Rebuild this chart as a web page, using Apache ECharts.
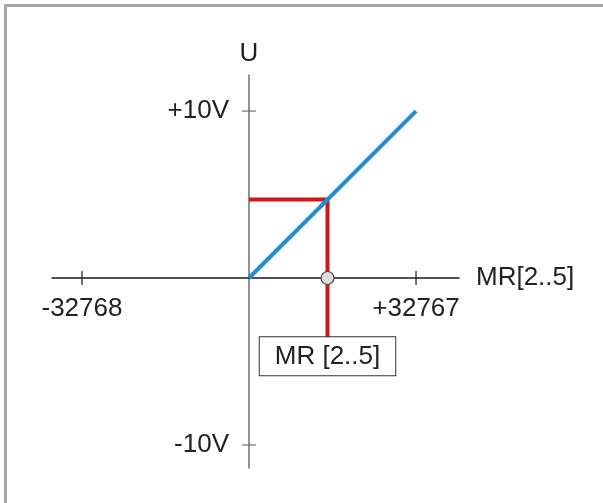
<!DOCTYPE html>
<html>
<head>
<meta charset="utf-8">
<script src="https://cdn.jsdelivr.net/npm/echarts@6/dist/echarts.min.js"></script>
<style>
	html, body { margin: 0; padding: 0; background: #fff; }
	#chart { position: absolute; left: 0; top: 0; width: 603px; height: 503px; }
	#frame {
		position: absolute; left: 4px; top: 4px; width: 640px; height: 540px;
		border-left: 3px solid #a6a6a6; border-top: 3px solid #a6a6a6;
		pointer-events: none;
	}
</style>
</head>
<body>
<div id="chart"></div>
<div id="frame"></div>
<script>
// 轴范围
const X_MIN = -38650
const X_MAX = 41200
const Y_MIN = -11.38
const Y_MAX = 12.16

// 刻度
const xTickValues = [-32768, 32767]
const xTickLabels = ['-32768', '+32767']
const yTickValues = [-10, 10]
const yTickLabels = ['-10V', '+10V']

// 特性曲线 (MR -> U)
const blueLine = [[0, 0], [32767, 10]]
// 工作点投影
const redLine = [[0, 4.7], [15400, 4.7], [15400, -3.55]]
const workPoint = [[15400, 0]]
const boxPoint = [[15400, -3.55]]
const boxText = 'MR [2..5]'

const FONT = '"Liberation Sans", Arial, sans-serif'
const TEXT_COLOR = '#222'
const X_AXIS_COLOR = '#1a1a1a'
const Y_AXIS_COLOR = '#6e6e6e'

const textStyle = { color: TEXT_COLOR, fontSize: 26, fontFamily: FONT }

const chart = echarts.init(document.getElementById('chart'))

const option = {
	animation: false,
	grid: { left: 52, right: 144, top: 75, bottom: 35, containLabel: false, outerBoundsMode: 'none' },
	xAxis: {
		type: 'value',
		min: X_MIN,
		max: X_MAX,
		name: 'MR[2..5]',
		nameLocation: 'end',
		nameGap: 17,
		nameTextStyle: textStyle,
		axisLine: { onZero: true, lineStyle: { color: X_AXIS_COLOR, width: 1.5 } },
		axisTick: { show: false },
		splitLine: { show: false },
		axisLabel: { show: false },
	},
	yAxis: {
		type: 'value',
		min: Y_MIN,
		max: Y_MAX,
		name: 'U',
		nameLocation: 'end',
		nameGap: 8,
		nameTextStyle: textStyle,
		axisLine: { onZero: true, lineStyle: { color: Y_AXIS_COLOR, width: 1.5 } },
		axisTick: { show: false },
		splitLine: { show: false },
		axisLabel: { show: false },
	},
	series: [
		{
			// x 轴十字刻度 + 标签
			type: 'scatter',
			data: xTickValues.map((v, i) => ({ value: [v, 0], name: xTickLabels[i] })),
			symbol: 'rect',
			symbolSize: [1.2, 14],
			itemStyle: { color: X_AXIS_COLOR, opacity: 1 },
			label: { show: true, position: 'bottom', distance: 11, formatter: '{b}', ...textStyle },
			silent: true,
		},
		{
			// y 轴十字刻度 + 标签
			type: 'scatter',
			data: yTickValues.map((v, i) => ({ value: [0, v], name: yTickLabels[i] })),
			symbol: 'rect',
			symbolSize: [14, 1.2],
			itemStyle: { color: Y_AXIS_COLOR, opacity: 1 },
			label: { show: true, position: 'left', distance: 13, formatter: '{b}', ...textStyle },
			silent: true,
		},
		{
			type: 'line',
			data: redLine,
			showSymbol: false,
			lineStyle: { color: '#d0161c', width: 4 },
			z: 3,
		},
		{
			type: 'line',
			data: blueLine,
			showSymbol: false,
			lineStyle: { color: '#1b8fd5', width: 4 },
			z: 4,
		},
		{
			type: 'scatter',
			data: workPoint,
			symbol: 'circle',
			symbolSize: 13,
			itemStyle: { color: '#dcdcdc', borderColor: '#4a4a4a', borderWidth: 1.2, opacity: 1 },
			z: 6,
		},
		{
			type: 'scatter',
			data: boxPoint,
			symbolSize: 0,
			itemStyle: { opacity: 1 },
			label: {
				show: true,
				position: 'bottom',
				distance: 0,
				formatter: boxText,
				...textStyle,
				backgroundColor: '#fff',
				borderColor: '#333',
				borderWidth: 1,
				padding: [7, 15, 5, 15],
			},
			z: 6,
		},
	],
}

chart.setOption(option)
</script>
</body>
</html>
